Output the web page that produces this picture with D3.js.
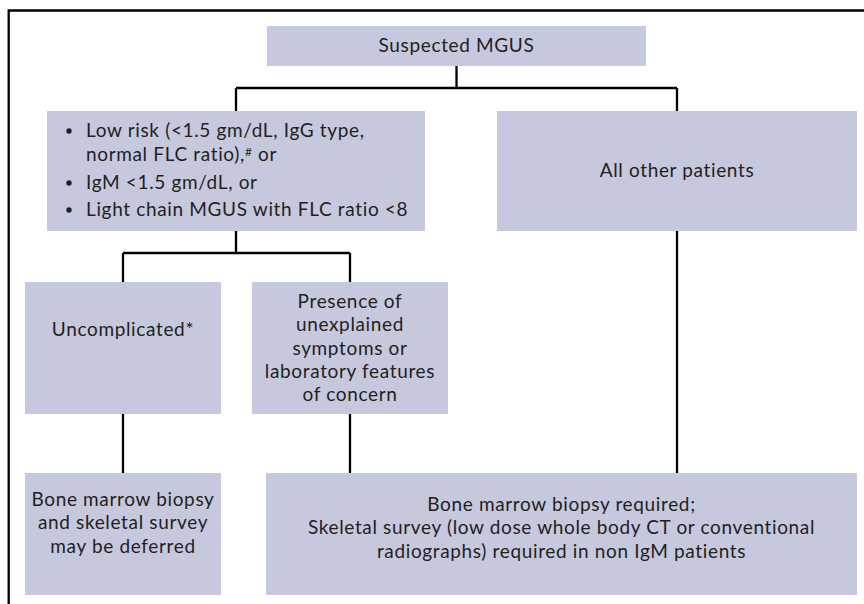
<!DOCTYPE html>
<html>
<head>
<meta charset="utf-8">
<script src="https://cdn.jsdelivr.net/npm/d3@7"></script>
<style>
  body { margin: 0; background: #fff; }
  svg { display: block; }
  .box { fill: #c6c8dd; }
  .label { font-family: Lato, "Open Sans", sans-serif; font-size: 19px; letter-spacing: 0.65px; fill: #231f20; }
  .link { fill: none; stroke: #000; stroke-width: 2.3; }
</style>
</head>
<body>
<svg id="chart"></svg>
<script>
// node content
const nodeIds = ['mgus', 'lowRisk', 'others', 'uncomplicated', 'presence', 'deferred', 'required'];
const nodeLines = [
  ['Suspected MGUS'],
  [],
  ['All other patients'],
  ['Uncomplicated*'],
  ['Presence of', 'unexplained', 'symptoms or', 'laboratory features', 'of concern'],
  ['Bone marrow biopsy', 'and skeletal survey', 'may be deferred'],
  ['Bone marrow biopsy required;', 'Skeletal survey (low dose whole body CT or conventional', 'radiographs) required in non IgM patients'],
];
const bulletItems = [
  ['Low risk (<1.5 gm/dL, IgG type,', 'normal FLC ratio),|#| or'],
  ['IgM <1.5 gm/dL, or'],
  ['Light chain MGUS with FLC ratio <8'],
];
// parent -> children
const links = [
  ['mgus', ['lowRisk', 'others']],
  ['lowRisk', ['uncomplicated', 'presence']],
  ['uncomplicated', ['deferred']],
  ['presence', ['required']],
  ['others', ['required']],
];

// layout (pixels)
const width = 864;
const height = 604;
const layout = {
  mgus: { x0: 267, x1: 646, y0: 26, y1: 66, textY: 52 },
  lowRisk: { x0: 47, x1: 425, y0: 111, y1: 231 },
  others: { x0: 497, x1: 857, y0: 111, y1: 231, textY: 177 },
  uncomplicated: { x0: 25, x1: 221, y0: 282, y1: 414, textY: 336 },
  presence: { x0: 252, x1: 448, y0: 282, y1: 414, textY: 308 },
  deferred: { x0: 25, x1: 221, y0: 473, y1: 595, textY: 506 },
  required: { x0: 266, x1: 857, y0: 473, y1: 595, textY: 511 },
};
const branchY = { mgus: 88, lowRisk: 253 };
const lineHeight = 23.3;

const cx = id => (layout[id].x0 + layout[id].x1) / 2;

const svg = d3.select('#chart').attr('width', width).attr('height', height);

// outer frame (top + left)
svg.append('path')
  .attr('class', 'link')
  .attr('stroke-width', 2.7)
  .attr('d', `M${width},10.5 H8.7 V${height}`);

const linkGroup = svg.append('g');
links.forEach(([parent, children]) => {
  const p = layout[parent];
  if (children.length > 1) {
    const xs = children.map(cx);
    const yMid = branchY[parent];
    const path = d3.path();
    path.moveTo(cx(parent), p.y1);
    path.lineTo(cx(parent), yMid);
    path.moveTo(d3.min(xs), yMid);
    path.lineTo(d3.max(xs), yMid);
    children.forEach((c, i) => {
      path.moveTo(xs[i], yMid);
      path.lineTo(xs[i], layout[c].y0);
    });
    linkGroup.append('path').attr('class', 'link').attr('d', path.toString());
  } else {
    const x = cx(parent);
    linkGroup.append('path').attr('class', 'link')
      .attr('d', `M${x},${p.y1} V${layout[children[0]].y0}`);
  }
});

const nodes = svg.selectAll('g.node')
  .data(nodeIds.map((id, i) => ({ id, lines: nodeLines[i] })))
  .join('g')
  .attr('class', 'node');

nodes.append('rect')
  .attr('class', 'box')
  .attr('x', d => layout[d.id].x0)
  .attr('y', d => layout[d.id].y0)
  .attr('width', d => layout[d.id].x1 - layout[d.id].x0)
  .attr('height', d => layout[d.id].y1 - layout[d.id].y0);

nodes.filter(d => d.lines.length)
  .append('text')
  .attr('class', 'label')
  .attr('text-anchor', 'middle')
  .selectAll('tspan')
  .data(d => d.lines.map((line, i) => ({ line, i, id: d.id })))
  .join('tspan')
  .attr('x', d => cx(d.id))
  .attr('y', d => layout[d.id].textY + d.i * lineHeight)
  .text(d => d.line);

// bullet list box
const bulletX = 69;
const textX = 86;
const bulletBaselines = [137, 189, 216];
const bulletGroup = svg.append('g');
bulletItems.forEach((item, i) => {
  const y0 = bulletBaselines[i];
  bulletGroup.append('circle')
    .attr('cx', bulletX)
    .attr('cy', y0 - 6)
    .attr('r', 2.7)
    .attr('fill', '#231f20');
  item.forEach((line, j) => {
    const t = bulletGroup.append('text')
      .attr('class', 'label')
      .attr('x', textX)
      .attr('y', y0 + j * 24);
    line.split('|').forEach((part, k) => {
      const span = t.append('tspan').text(part);
      if (k === 1) span.attr('baseline-shift', '40%').attr('font-size', '12px');
    });
  });
});
</script>
</body>
</html>
